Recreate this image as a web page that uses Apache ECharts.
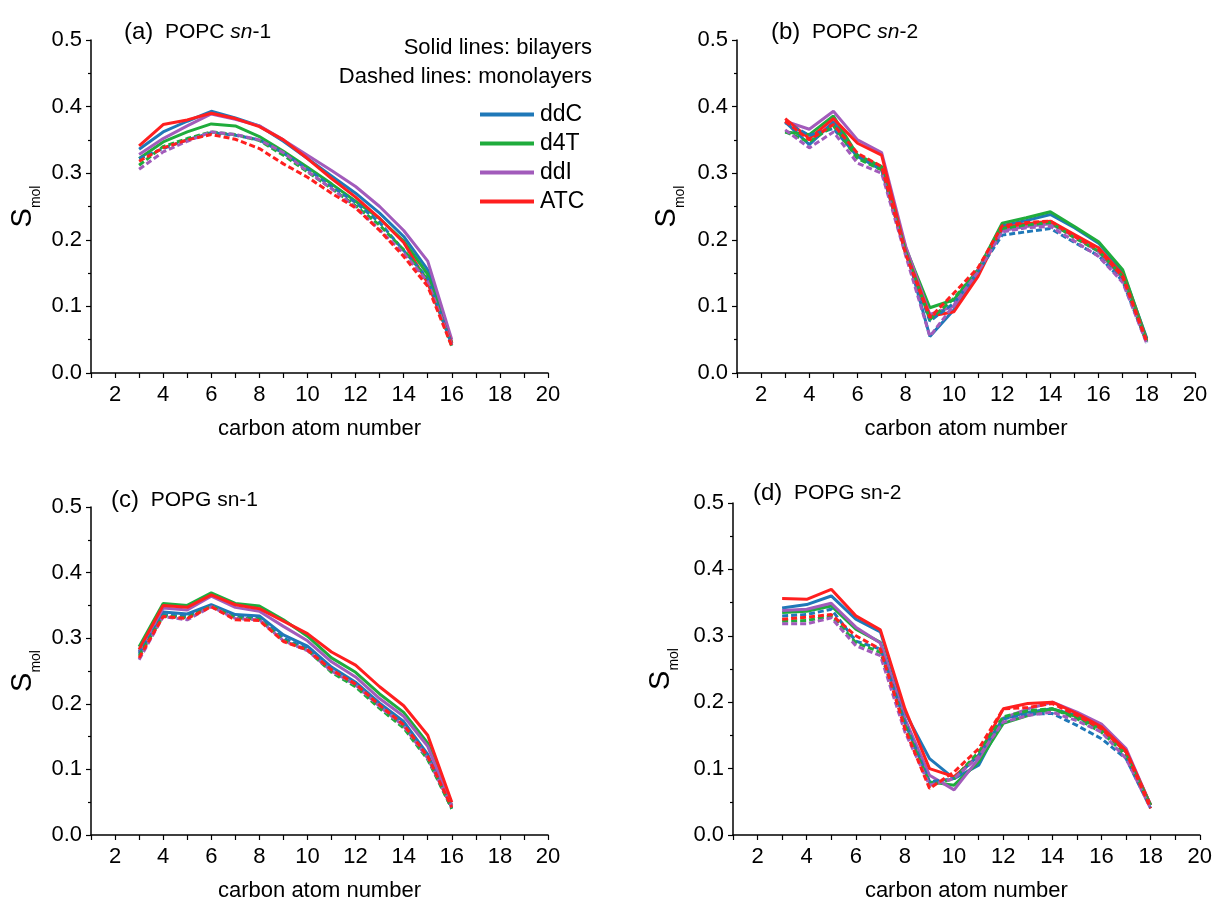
<!DOCTYPE html>
<html>
<head>
<meta charset="utf-8">
<title>Smol order parameters</title>
<script src="https://cdn.jsdelivr.net/npm/echarts@6/dist/echarts.min.js"></script>
<style>
  html, body { margin: 0; padding: 0; background: #fff; }
  #myChart { width: 1215px; height: 903px; }
</style>
</head>
<body>
<div id="myChart"></div>
<script>
  // carbon atom numbers of each chain
  var carbonsSn1 = [3, 4, 5, 6, 7, 8, 9, 10, 11, 12, 13, 14, 15, 16];
  var carbonsSn2 = [3, 4, 5, 6, 7, 8, 9, 10, 11, 12, 13, 14, 15, 16, 17, 18];

  var drugNames = ['ddC', 'd4T', 'ddI', 'ATC'];
  var drugColors = ['#1f78b8', '#1fac3c', '#a25bbb', '#ff1f1f'];

  // (a) POPC sn-1 : bilayers (solid)
  var popcSn1_ddC_bi = [0.336, 0.362, 0.378, 0.393, 0.383, 0.371, 0.348, 0.322, 0.296, 0.270, 0.240, 0.205, 0.155, 0.045];
  var popcSn1_d4T_bi = [0.322, 0.347, 0.362, 0.374, 0.371, 0.355, 0.333, 0.309, 0.284, 0.258, 0.232, 0.198, 0.148, 0.045];
  var popcSn1_ddI_bi = [0.328, 0.352, 0.371, 0.389, 0.381, 0.371, 0.350, 0.327, 0.304, 0.280, 0.250, 0.214, 0.168, 0.050];
  var popcSn1_ATC_bi = [0.341, 0.373, 0.380, 0.390, 0.382, 0.370, 0.350, 0.322, 0.292, 0.264, 0.232, 0.196, 0.135, 0.045];
  // (a) POPC sn-1 : monolayers (dashed)
  var popcSn1_ddC_mono = [0.322, 0.337, 0.350, 0.361, 0.357, 0.350, 0.330, 0.306, 0.280, 0.256, 0.226, 0.184, 0.142, 0.042];
  var popcSn1_d4T_mono = [0.312, 0.340, 0.352, 0.362, 0.358, 0.349, 0.327, 0.302, 0.277, 0.251, 0.222, 0.185, 0.140, 0.040];
  var popcSn1_ddI_mono = [0.306, 0.332, 0.348, 0.362, 0.358, 0.350, 0.331, 0.303, 0.277, 0.249, 0.215, 0.180, 0.137, 0.042];
  var popcSn1_ATC_mono = [0.318, 0.338, 0.350, 0.358, 0.351, 0.337, 0.314, 0.294, 0.270, 0.248, 0.214, 0.175, 0.130, 0.040];

  // (b) POPC sn-2
  var popcSn2_ddC_bi = [0.377, 0.343, 0.377, 0.326, 0.307, 0.186, 0.055, 0.095, 0.150, 0.221, 0.229, 0.238, 0.218, 0.195, 0.152, 0.052];
  var popcSn2_d4T_bi = [0.362, 0.358, 0.386, 0.327, 0.310, 0.188, 0.098, 0.110, 0.155, 0.225, 0.233, 0.242, 0.220, 0.197, 0.155, 0.050];
  var popcSn2_ddI_bi = [0.378, 0.366, 0.393, 0.350, 0.331, 0.190, 0.088, 0.100, 0.155, 0.214, 0.220, 0.224, 0.205, 0.182, 0.142, 0.047];
  var popcSn2_ATC_bi = [0.382, 0.352, 0.382, 0.345, 0.327, 0.182, 0.085, 0.092, 0.145, 0.218, 0.224, 0.228, 0.208, 0.188, 0.147, 0.048];
  var popcSn2_ddC_mono = [0.376, 0.357, 0.367, 0.325, 0.305, 0.180, 0.078, 0.105, 0.152, 0.207, 0.212, 0.217, 0.196, 0.176, 0.138, 0.045];
  var popcSn2_d4T_mono = [0.362, 0.347, 0.371, 0.322, 0.305, 0.182, 0.080, 0.112, 0.155, 0.217, 0.222, 0.226, 0.203, 0.183, 0.145, 0.047];
  var popcSn2_ddI_mono = [0.365, 0.338, 0.362, 0.315, 0.300, 0.176, 0.055, 0.102, 0.152, 0.212, 0.218, 0.220, 0.198, 0.175, 0.136, 0.044];
  var popcSn2_ATC_mono = [0.378, 0.350, 0.373, 0.330, 0.310, 0.178, 0.083, 0.120, 0.158, 0.221, 0.226, 0.228, 0.205, 0.185, 0.144, 0.046];

  // (c) POPG sn-1
  var popgSn1_ddC_bi = [0.280, 0.340, 0.337, 0.351, 0.336, 0.334, 0.305, 0.288, 0.256, 0.233, 0.201, 0.173, 0.123, 0.042];
  var popgSn1_d4T_bi = [0.287, 0.353, 0.350, 0.369, 0.353, 0.349, 0.328, 0.303, 0.270, 0.248, 0.215, 0.187, 0.140, 0.045];
  var popgSn1_ddI_bi = [0.278, 0.346, 0.343, 0.364, 0.347, 0.341, 0.318, 0.296, 0.264, 0.241, 0.208, 0.181, 0.135, 0.045];
  var popgSn1_ATC_bi = [0.283, 0.350, 0.347, 0.366, 0.351, 0.345, 0.326, 0.307, 0.279, 0.259, 0.226, 0.197, 0.152, 0.050];
  var popgSn1_ddC_mono = [0.276, 0.336, 0.333, 0.350, 0.333, 0.330, 0.300, 0.284, 0.250, 0.228, 0.196, 0.168, 0.118, 0.040];
  var popgSn1_d4T_mono = [0.273, 0.334, 0.331, 0.349, 0.331, 0.329, 0.297, 0.282, 0.248, 0.226, 0.193, 0.163, 0.115, 0.040];
  var popgSn1_ddI_mono = [0.267, 0.333, 0.328, 0.348, 0.330, 0.328, 0.296, 0.281, 0.250, 0.229, 0.196, 0.166, 0.117, 0.042];
  var popgSn1_ATC_mono = [0.270, 0.333, 0.330, 0.348, 0.328, 0.327, 0.295, 0.282, 0.252, 0.230, 0.198, 0.168, 0.120, 0.042];

  // (d) POPG sn-2
  var popgSn2_ddC_bi = [0.342, 0.347, 0.360, 0.325, 0.306, 0.185, 0.115, 0.085, 0.105, 0.175, 0.185, 0.190, 0.180, 0.163, 0.125, 0.045];
  var popgSn2_d4T_bi = [0.335, 0.337, 0.345, 0.310, 0.290, 0.170, 0.080, 0.075, 0.110, 0.168, 0.180, 0.190, 0.178, 0.160, 0.125, 0.045];
  var popgSn2_ddI_bi = [0.338, 0.340, 0.349, 0.313, 0.289, 0.175, 0.090, 0.068, 0.115, 0.176, 0.190, 0.200, 0.185, 0.167, 0.130, 0.045];
  var popgSn2_ATC_bi = [0.356, 0.355, 0.370, 0.330, 0.309, 0.190, 0.100, 0.088, 0.120, 0.190, 0.198, 0.200, 0.183, 0.163, 0.127, 0.045];
  var popgSn2_ddC_mono = [0.330, 0.332, 0.340, 0.292, 0.280, 0.170, 0.080, 0.085, 0.120, 0.175, 0.182, 0.183, 0.165, 0.145, 0.115, 0.040];
  var popgSn2_d4T_mono = [0.322, 0.323, 0.330, 0.290, 0.275, 0.165, 0.075, 0.085, 0.125, 0.178, 0.187, 0.190, 0.175, 0.155, 0.120, 0.045];
  var popgSn2_ddI_mono = [0.318, 0.318, 0.327, 0.285, 0.270, 0.155, 0.075, 0.085, 0.118, 0.170, 0.180, 0.185, 0.172, 0.155, 0.115, 0.040];
  var popgSn2_ATC_mono = [0.325, 0.328, 0.332, 0.300, 0.280, 0.160, 0.070, 0.095, 0.130, 0.190, 0.192, 0.198, 0.180, 0.160, 0.125, 0.040];

  var panels = [
    { carbons: carbonsSn1, yNameGap: 48,
      bi: [popcSn1_ddC_bi, popcSn1_d4T_bi, popcSn1_ddI_bi, popcSn1_ATC_bi],
      mono: [popcSn1_ddC_mono, popcSn1_d4T_mono, popcSn1_ddI_mono, popcSn1_ATC_mono] },
    { carbons: carbonsSn2, yNameGap: 50,
      bi: [popcSn2_ddC_bi, popcSn2_d4T_bi, popcSn2_ddI_bi, popcSn2_ATC_bi],
      mono: [popcSn2_ddC_mono, popcSn2_d4T_mono, popcSn2_ddI_mono, popcSn2_ATC_mono] },
    { carbons: carbonsSn1, yNameGap: 48,
      bi: [popgSn1_ddC_bi, popgSn1_d4T_bi, popgSn1_ddI_bi, popgSn1_ATC_bi],
      mono: [popgSn1_ddC_mono, popgSn1_d4T_mono, popgSn1_ddI_mono, popgSn1_ATC_mono] },
    { carbons: carbonsSn2, yNameGap: 52,
      bi: [popgSn2_ddC_bi, popgSn2_d4T_bi, popgSn2_ddI_bi, popgSn2_ATC_bi],
      mono: [popgSn2_ddC_mono, popgSn2_d4T_mono, popgSn2_ddI_mono, popgSn2_ATC_mono] }
  ];

  var FONT = '"Liberation Sans", Arial, sans-serif';

  var myChart = echarts.init(document.getElementById('myChart'));

  function pairs(xs, ys) {
    return xs.map(function (x, i) { return [x, ys[i]]; });
  }

  var xAxes = [], yAxes = [], series = [];
  panels.forEach(function (p, g) {
    xAxes.push({
      type: 'value', gridIndex: g, min: 1, max: 20, interval: 1,
      axisLine: { show: true, onZero: false, lineStyle: { color: '#000', width: 1.5 } },
      axisTick: { show: true, length: 5, lineStyle: { color: '#000', width: 1.2 } },
      axisLabel: {
        margin: 11, color: '#000', fontSize: 22, fontFamily: FONT,
        formatter: function (v) { return v % 2 === 0 ? String(v) : ''; }
      },
      splitLine: { show: false },
      name: 'carbon atom number', nameLocation: 'middle', nameGap: 45,
      nameTextStyle: { color: '#000', fontSize: 22, fontFamily: FONT }
    });
    yAxes.push({
      type: 'value', gridIndex: g, min: 0, max: 0.5, interval: 0.1,
      axisLine: { show: true, lineStyle: { color: '#000', width: 1.5 } },
      axisTick: { show: true, length: 5, lineStyle: { color: '#000', width: 1.2 } },
      minorTick: { show: true, splitNumber: 2, length: 3, lineStyle: { color: '#000', width: 1.2 } },
      axisLabel: {
        margin: 9, color: '#000', fontSize: 22, fontFamily: FONT,
        formatter: function (v) { return v.toFixed(1); }
      },
      splitLine: { show: false },
      // S with subscript "mol"
      name: '{s|S}{m|mol}', nameLocation: 'middle', nameRotate: 90, nameGap: p.yNameGap,
      nameTextStyle: {
        color: '#000', fontFamily: FONT,
        rich: {
          s: { fontSize: 29, lineHeight: 35, verticalAlign: 'top', fontFamily: FONT },
          m: { fontSize: 14, verticalAlign: 'bottom', fontFamily: FONT }
        }
      }
    });
    // solid = bilayers, dashed = monolayers
    drugNames.forEach(function (name, k) {
      series.push({
        name: name, type: 'line', xAxisIndex: g, yAxisIndex: g,
        color: drugColors[k], showSymbol: false, symbol: 'none',
        lineStyle: { width: 3, type: 'solid' },
        data: pairs(p.carbons, p.bi[k])
      });
    });
    drugNames.forEach(function (name, k) {
      series.push({
        name: name, type: 'line', xAxisIndex: g, yAxisIndex: g,
        color: drugColors[k], showSymbol: false, symbol: 'none',
        lineStyle: { width: 3, type: [6, 3] },
        data: pairs(p.carbons, p.mono[k])
      });
    });
  });

  function panelTitle(label, lipid, chain, italicSn, left, top) {
    var snPart = italicSn ? '{i|sn}{t|-' + chain + '}' : '{t|sn-' + chain + '}';
    return {
      text: '{p|' + label + '}{t|  ' + lipid + ' }' + snPart,
      left: left, top: top, padding: 0,
      textStyle: {
        fontWeight: 'normal',
        rich: {
          p: { fontSize: 24, color: '#000', fontFamily: FONT, fontWeight: 'normal' },
          t: { fontSize: 21, color: '#000', fontFamily: FONT, fontWeight: 'normal' },
          i: { fontSize: 21, color: '#000', fontFamily: FONT, fontWeight: 'normal', fontStyle: 'italic' }
        }
      }
    };
  }

  var option = {
    animation: false,
    backgroundColor: '#fff',
    title: [
      panelTitle('(a)', 'POPC', 1, true, 124, 20),
      panelTitle('(b)', 'POPC', 2, true, 771, 20),
      panelTitle('(c)', 'POPG', 1, false, 111, 488),
      panelTitle('(d)', 'POPG', 2, false, 753, 481),
      { text: 'Solid lines: bilayers', right: 623, top: 37, padding: 0,
        textStyle: { fontSize: 22, fontWeight: 'normal', color: '#000', fontFamily: FONT } },
      { text: 'Dashed lines: monolayers', right: 623, top: 66, padding: 0,
        textStyle: { fontSize: 22, fontWeight: 'normal', color: '#000', fontFamily: FONT } }
    ],
    legend: {
      data: drugNames,
      orient: 'vertical',
      left: 480, top: 103,
      padding: 0,
      icon: 'rect',
      itemWidth: 54, itemHeight: 4, itemGap: 6,
      textStyle: { fontSize: 23, color: '#000', fontFamily: FONT, padding: [0, 0, 0, 1] }
    },
    grid: [
      { left: 91, top: 40, width: 457, height: 333 },
      { left: 737, top: 40, width: 458, height: 333 },
      { left: 91, top: 507, width: 457, height: 331 },
      { left: 733, top: 503, width: 467, height: 340 }
    ],
    xAxis: xAxes,
    yAxis: yAxes,
    series: series
  };

  myChart.setOption(option);
</script>
</body>
</html>
